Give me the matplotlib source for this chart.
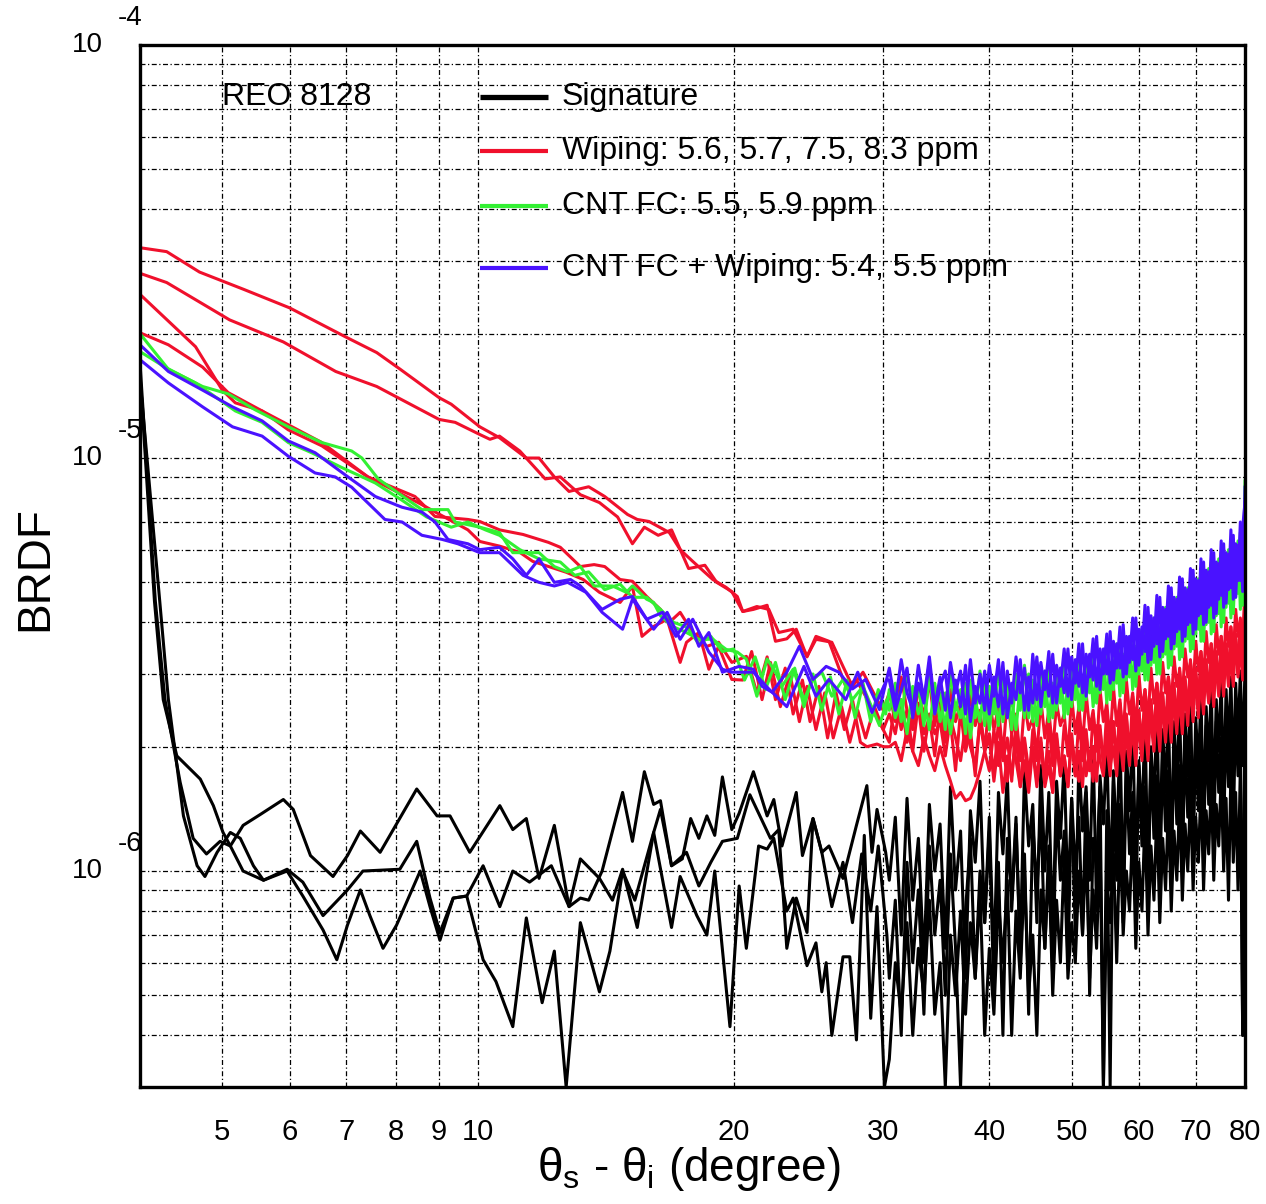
import numpy as np
import matplotlib.pyplot as plt
from matplotlib import transforms
from matplotlib.ticker import FixedLocator, NullFormatter, LogLocator

plt.rcParams['font.family'] = ['Liberation Sans', 'DejaVu Sans']
plt.rcParams['mathtext.fontset'] = 'custom'
plt.rcParams['mathtext.rm'] = 'Liberation Sans'

# BRDF values are in units of 1e-6, angles in degrees
# heads: (angle, BRDF) pairs read off the smooth part; tails share tail_deg (noisy part)
tail_deg = [30.5, 31.0, 31.5, 32.0, 32.5, 33.0, 33.5, 34.0, 34.5, 35.0,
            35.5, 36.0, 36.5, 37.0, 37.5, 38.0, 38.5, 39.0, 39.5, 40.0,
            40.5, 41.0, 41.5, 42.0, 42.5, 43.0, 43.5, 44.0, 44.5, 45.0,
            45.5, 46.0, 46.5, 47.0, 47.5, 48.0, 48.5, 49.0, 49.5, 50.0,
            50.5, 51.0, 51.5, 52.0, 52.5, 53.0, 53.5, 54.0, 54.5, 55.0,
            55.5, 56.0, 56.5, 57.0, 57.5, 58.0, 58.5, 59.0, 59.5, 60.0,
            60.5, 61.0, 61.5, 62.0, 62.5, 63.0, 63.5, 64.0, 64.5, 65.0,
            65.5, 66.0, 66.5, 67.0, 67.5, 68.0, 68.5, 69.0, 69.5, 70.0,
            70.5, 71.0, 71.5, 72.0, 72.5, 73.0, 73.5, 74.0, 74.5, 75.0,
            75.5, 76.0, 76.5, 77.0, 77.5, 78.0, 78.5, 79.0, 79.5, 80.0]

# Signature (three black curves)
sig_a_head = [(4.0, 17.0), (4.17, 4.5), (4.28, 2.6), (4.46, 1.64), (4.62, 1.20), (4.79, 1.10),
              (4.97, 1.18), (5.11, 1.15), (5.29, 1.29), (5.54, 1.37), (5.90, 1.49), (6.06, 1.41),
              (6.35, 1.09), (6.75, 0.97), (7.02, 1.09), (7.27, 1.25), (7.67, 1.11), (8.47, 1.58),
              (8.95, 1.36), (9.27, 1.36), (9.78, 1.11), (10.61, 1.44), (10.99, 1.26), (11.4, 1.34),
              (11.8, 0.96), (12.3, 1.29), (12.8, 0.82), (13.2, 0.86), (13.5, 0.85), (14.0, 1.0),
              (14.8, 1.55), (15.2, 1.18), (15.7, 1.74), (16.1, 1.45), (16.4, 1.48), (16.9, 1.03),
              (17.4, 1.07), (17.8, 1.34), (18.2, 1.20), (18.6, 1.36), (19.0, 1.22), (19.4, 1.69),
              (19.9, 1.26), (20.3, 1.38), (21.1, 1.74), (21.9, 1.36), (22.3, 1.49), (22.8, 1.15),
              (23.7, 1.55), (24.1, 1.09), (24.8, 1.34), (25.4, 1.11), (25.9, 1.15), (26.9, 0.96),
              (27.9, 1.29), (28.7, 1.61), (29.1, 1.11), (29.5, 1.41), (30.2, 1.11)]
sig_a_tail = [0.95, 1.35, 0.70, 1.50, 0.85, 1.20, 0.60, 1.45, 1.00, 1.30,
              0.65, 1.60, 0.90, 1.25, 0.55, 1.40, 1.05, 1.65, 0.75, 1.35,
              0.60, 1.55, 1.10, 1.70, 0.80, 1.30, 0.65, 1.75, 1.15, 1.45,
              0.75, 1.80, 1.00, 1.55, 0.70, 1.65, 1.20, 1.85, 0.85, 1.50,
              0.70, 1.90, 1.25, 1.60, 0.95, 2.00, 0.80, 1.70, 1.30, 2.05,
              0.90, 1.75, 1.15, 2.15, 0.85, 1.95, 1.40, 2.25, 1.00, 1.85,
              1.30, 2.35, 0.95, 2.00, 1.45, 2.45, 1.10, 2.20, 1.55, 2.50,
              1.05, 2.30, 1.60, 2.55, 1.20, 2.40, 1.70, 2.65, 1.25, 2.35,
              1.75, 2.70, 1.30, 2.50, 1.85, 2.80, 1.40, 2.60, 1.95, 2.90,
              1.50, 2.75, 2.00, 2.95, 1.60, 2.85, 2.10, 3.05, 1.80, 3.10]

sig_b_head = [(4.0, 15.5), (4.22, 4.5), (4.32, 2.6), (4.50, 1.36), (4.67, 1.03), (4.77, 0.97),
              (4.93, 1.11), (5.11, 1.24), (5.25, 1.20), (5.44, 1.03), (5.59, 0.95), (5.96, 1.01),
              (6.22, 0.94), (6.57, 0.78), (7.02, 0.90), (7.32, 1.0), (8.09, 1.01), (8.47, 1.18),
              (8.78, 0.86), (9.02, 0.71), (9.35, 0.86), (9.70, 0.87), (10.14, 1.03), (10.61, 0.82),
              (10.99, 1.0), (11.5, 0.94), (12.2, 1.03), (12.8, 0.82), (13.2, 1.07), (13.9, 0.96),
              (14.4, 0.85), (14.8, 1.01), (15.4, 0.73), (16.1, 1.24), (16.4, 1.41), (16.9, 1.03),
              (17.6, 1.11), (18.2, 0.92), (18.8, 1.05), (19.4, 1.18), (20.2, 1.20), (20.9, 1.53),
              (22.1, 1.20), (22.6, 1.26), (23.1, 0.65), (23.7, 0.86), (24.4, 0.71), (24.8, 1.34),
              (25.4, 1.11), (26.1, 0.82), (26.9, 1.05), (27.6, 0.75), (28.3, 1.10), (29.0, 0.80),
              (29.6, 1.15), (30.3, 0.70)]
sig_b_tail = [0.55, 0.85, 0.40, 1.05, 0.60, 0.90, 0.45, 1.15, 0.70, 0.95,
              0.50, 1.10, 0.65, 0.30, 0.80, 1.20, 0.55, 1.00, 0.75, 1.25,
              0.50, 1.05, 0.40, 1.20, 0.85, 1.35, 0.60, 1.10, 0.45, 1.30,
              0.90, 1.40, 0.65, 1.15, 0.55, 1.45, 0.95, 1.25, 0.60, 1.50,
              1.00, 1.35, 0.70, 1.55, 0.50, 1.20, 1.05, 1.60, 0.30, 1.40,
              0.30, 1.65, 0.95, 1.45, 0.75, 1.75, 1.10, 1.55, 0.80, 1.80,
              1.15, 1.60, 0.85, 1.90, 1.20, 1.70, 0.90, 1.95, 1.25, 1.75,
              0.95, 2.05, 1.30, 1.80, 1.00, 2.10, 1.35, 1.90, 1.05, 2.20,
              1.40, 1.95, 1.10, 2.25, 1.45, 2.05, 1.15, 2.30, 1.55, 2.10,
              1.20, 2.40, 1.60, 2.20, 1.25, 2.50, 1.70, 2.30, 0.40, 2.60]

sig_c_head = [(4.0, 16.0), (4.16, 4.5), (4.26, 2.6), (4.42, 1.90), (4.71, 1.67), (4.88, 1.44),
              (5.01, 1.24), (5.11, 1.15), (5.29, 1.0), (5.59, 0.95), (5.96, 1.0), (6.22, 0.87),
              (6.57, 0.72), (6.82, 0.61), (7.02, 0.74), (7.27, 0.90), (7.46, 0.78), (7.73, 0.65),
              (8.02, 0.74), (8.55, 1.0), (8.78, 0.82), (9.02, 0.68), (9.35, 0.86), (9.70, 0.87),
              (10.14, 0.61), (10.5, 0.54), (10.99, 0.42), (11.4, 0.77), (11.9, 0.48), (12.3, 0.64),
              (12.7, 0.30), (13.2, 0.75), (13.9, 0.51), (14.3, 0.64), (14.8, 1.0), (15.3, 0.85),
              (16.1, 1.24), (16.9, 0.73), (17.3, 0.97), (18.1, 0.78), (18.6, 0.70), (19.0, 1.0),
              (19.8, 0.42), (20.3, 0.92), (20.7, 0.65), (21.4, 1.15), (21.9, 1.13), (22.3, 1.20),
              (23.1, 0.80), (23.5, 0.86), (24.4, 0.59), (25.0, 0.67), (25.4, 0.51), (25.7, 0.60),
              (26.1, 0.40), (26.9, 0.62), (27.4, 0.62), (27.9, 0.39), (28.5, 1.22), (29.0, 0.44),
              (29.5, 0.82), (30.1, 0.30)]
sig_c_tail = [0.35, 0.60, 0.45, 0.75, 0.40, 0.65, 0.50, 0.85, 0.45, 0.60,
              0.30, 0.70, 0.50, 0.80, 0.45, 0.75, 0.55, 0.90, 0.40, 0.65,
              0.45, 0.85, 0.60, 0.95, 0.40, 0.80, 0.55, 1.00, 0.50, 0.70,
              0.40, 0.90, 0.65, 1.05, 0.50, 0.85, 0.60, 1.10, 0.55, 0.75,
              0.60, 1.00, 0.70, 1.15, 0.55, 0.90, 0.65, 1.20, 0.30, 0.95,
              0.75, 1.10, 0.60, 1.25, 0.70, 1.00, 0.80, 1.30, 0.65, 1.05,
              0.80, 1.35, 0.70, 1.15, 0.85, 1.40, 0.75, 1.20, 0.90, 1.45,
              0.80, 1.25, 0.95, 1.50, 0.85, 1.30, 1.00, 1.55, 0.90, 1.35,
              1.05, 1.60, 0.90, 1.40, 1.10, 1.65, 0.95, 1.45, 1.15, 1.70,
              1.00, 1.50, 0.85, 1.75, 1.05, 1.55, 0.90, 1.80, 0.40, 2.20]

# Wiping (four red curves)
wip_a_head = [(4.0, 32.3), (4.3, 31.6), (4.7, 28.2), (5.3, 25.6), (6.0, 23.1), (7.0, 19.6),
              (7.6, 18.0), (8.1, 16.4), (9.0, 14.0), (9.3, 13.5), (10.05, 11.9), (10.6, 11.2),
              (11.4, 10.0), (11.8, 10.0), (12.3, 9.0), (12.8, 8.3), (13.5, 8.52), (14.1, 8.07),
              (15.0, 7.30), (15.4, 7.1), (15.9, 7.02), (16.8, 6.6), (17.3, 6.0), (17.9, 5.62),
              (18.9, 5.08), (19.6, 4.86), (20.2, 4.62), (20.5, 4.25), (21.3, 4.37), (22.0, 4.30),
              (22.6, 3.78), (23.5, 3.85), (24.4, 3.31), (25.0, 3.64), (26.1, 3.58), (26.9, 3.13),
              (27.6, 2.80), (28.4, 3.03), (29.5, 2.6), (30.0, 2.45)]
wip_a_tail = [2.70, 2.30, 2.95, 2.45, 2.20, 2.80, 2.35, 2.90, 2.25, 2.65,
              2.10, 2.75, 2.30, 2.55, 2.00, 2.70, 2.25, 2.45, 1.95, 2.60,
              2.20, 2.50, 1.90, 2.65, 2.15, 2.40, 1.85, 2.55, 2.20, 2.35,
              1.90, 2.60, 2.10, 2.45, 1.95, 2.55, 2.25, 2.40, 1.90, 2.65,
              2.15, 2.50, 2.00, 2.70, 2.20, 2.45, 1.95, 2.75, 2.30, 2.55,
              2.05, 2.80, 2.25, 2.60, 2.10, 2.90, 2.40, 2.70, 2.20, 3.00,
              2.45, 2.75, 2.30, 3.10, 2.55, 2.85, 2.40, 3.20, 2.70, 2.95,
              2.50, 3.30, 2.80, 3.05, 2.60, 3.45, 2.95, 3.20, 2.75, 3.60,
              3.05, 3.40, 2.90, 3.80, 3.20, 3.55, 3.00, 3.95, 3.35, 3.70,
              3.15, 4.10, 3.50, 3.90, 3.30, 4.30, 3.70, 4.05, 3.45, 5.00]

wip_b_head = [(4.0, 28.0), (4.3, 26.6), (5.1, 21.6), (5.9, 19.1), (6.8, 16.2), (7.6, 14.9),
              (9.0, 12.4), (9.4, 12.2), (10.05, 11.4), (10.33, 11.1), (10.6, 11.3), (11.2, 10.4),
              (12.0, 8.9), (12.5, 9.0), (13.2, 8.15), (13.9, 7.8), (14.6, 7.2), (15.2, 6.2),
              (15.7, 6.8), (16.3, 6.5), (16.9, 6.7), (17.7, 5.4), (18.5, 5.5), (19.1, 5.0),
              (19.9, 4.75), (20.5, 4.25), (21.1, 4.3), (21.9, 4.4), (22.4, 3.6), (23.1, 3.65),
              (23.7, 3.85), (24.4, 3.3), (25.0, 3.7), (25.9, 3.6), (27.1, 2.8), (27.9, 2.9),
              (28.6, 2.65), (30.0, 2.2)]
wip_b_tail = [2.05, 2.60, 2.20, 2.45, 1.95, 2.55, 2.15, 2.35, 1.90, 2.50,
              2.05, 2.30, 1.75, 2.45, 1.95, 2.20, 1.70, 2.35, 2.00, 2.15,
              1.70, 2.30, 1.85, 2.10, 1.65, 2.25, 1.90, 2.05, 1.60, 2.20,
              1.85, 2.00, 1.65, 2.30, 1.80, 2.10, 1.70, 2.25, 1.95, 2.05,
              1.70, 2.35, 1.85, 2.15, 1.75, 2.40, 2.00, 2.20, 1.80, 2.45,
              1.95, 2.30, 1.85, 2.55, 2.05, 2.35, 1.90, 2.65, 2.15, 2.45,
              2.00, 2.75, 2.25, 2.55, 2.10, 2.85, 2.35, 2.65, 2.20, 2.95,
              2.45, 2.75, 2.30, 3.10, 2.55, 2.90, 2.40, 3.25, 2.70, 3.00,
              2.55, 3.40, 2.85, 3.15, 2.65, 3.55, 3.00, 3.30, 2.80, 3.70,
              3.10, 3.50, 2.95, 3.90, 3.25, 3.65, 3.05, 4.10, 3.40, 4.50]

wip_c_head = [(4.0, 20.1), (4.32, 18.8), (4.74, 16.6), (5.08, 14.4), (5.57, 13.0), (6.55, 10.9),
              (7.42, 9.0), (8.43, 8.07), (8.9, 7.22), (9.73, 7.1), (10.05, 7.02), (10.6, 6.7),
              (11.3, 6.53), (12.1, 6.25), (12.5, 6.08), (13.2, 5.46), (13.7, 5.52), (14.1, 5.46),
              (14.7, 5.08), (15.2, 5.03), (15.8, 4.62), (16.4, 4.30), (16.8, 4.0), (17.3, 4.23),
              (17.9, 3.78), (18.6, 3.50), (19.2, 3.58), (19.9, 3.20), (20.7, 3.31), (21.3, 2.7),
              (21.9, 3.3), (22.4, 2.6), (23.0, 3.1), (23.5, 2.4), (24.1, 2.9), (24.6, 2.3),
              (25.2, 2.8), (25.8, 2.1), (26.4, 2.7), (27.0, 2.2), (27.6, 2.6), (28.2, 2.05),
              (28.7, 2.0), (29.5, 2.03), (30.0, 2.0)]
wip_c_tail = [2.00, 2.05, 1.85, 2.20, 1.95, 1.80, 2.10, 1.90, 1.75, 2.00,
              1.80, 1.65, 1.50, 1.55, 1.48, 1.50, 1.60, 1.75, 1.95, 2.10,
              1.65, 2.05, 1.55, 1.90, 1.70, 2.15, 1.60, 1.85, 1.55, 2.00,
              1.65, 2.10, 1.60, 1.80, 1.55, 2.05, 1.70, 1.90, 1.60, 2.15,
              1.70, 1.95, 1.60, 2.20, 1.75, 2.00, 1.65, 2.25, 1.80, 2.05,
              1.70, 2.30, 1.85, 2.10, 1.75, 2.40, 1.90, 2.20, 1.80, 2.45,
              1.95, 2.30, 1.85, 2.60, 2.05, 2.40, 1.95, 2.70, 2.15, 2.50,
              2.05, 2.85, 2.25, 2.60, 2.15, 2.95, 2.40, 2.75, 2.30, 3.10,
              2.50, 2.85, 2.40, 3.25, 2.60, 3.00, 2.50, 3.40, 2.75, 3.15,
              2.65, 3.55, 2.90, 3.30, 2.80, 3.75, 3.00, 3.50, 2.90, 4.20]

wip_d_head = [(4.0, 24.9), (4.65, 18.6), (5.0, 14.6), (5.18, 13.6), (5.57, 13.0), (5.98, 11.7),
              (6.55, 10.7), (7.42, 9.0), (8.50, 7.8), (9.73, 6.7), (10.05, 6.28), (10.6, 6.12),
              (11.2, 5.91), (11.6, 5.62), (12.7, 5.29), (13.3, 5.08), (13.9, 4.73), (14.7, 4.47),
              (15.2, 4.89), (15.6, 3.70), (16.1, 3.91), (16.7, 4.07), (17.3, 3.20), (17.6, 3.58),
              (18.2, 3.78), (18.7, 3.08), (19.2, 3.50), (19.9, 2.91), (20.5, 2.9), (21.0, 3.4),
              (21.6, 2.6), (22.1, 3.2), (22.7, 2.5), (23.3, 3.0), (23.9, 2.3), (24.4, 2.8),
              (25.0, 2.2), (25.6, 2.7), (26.2, 2.1), (26.8, 2.5), (27.4, 2.05), (28.0, 2.45),
              (28.6, 2.1), (29.3, 2.5), (30.0, 2.2)]
wip_d_tail = [2.40, 2.15, 2.60, 2.05, 2.35, 2.50, 1.95, 2.40, 2.15, 2.30,
              1.90, 2.35, 2.10, 1.85, 2.25, 2.00, 1.80, 2.30, 1.95, 1.75,
              2.20, 1.80, 2.05, 1.65, 2.15, 1.85, 1.60, 2.10, 1.75, 1.95,
              1.60, 2.05, 1.70, 1.95, 1.55, 2.15, 1.75, 1.90, 1.60, 2.10,
              1.80, 1.65, 2.20, 1.70, 1.95, 1.65, 2.25, 1.85, 1.70, 2.15,
              1.80, 2.00, 1.70, 2.35, 1.90, 2.10, 1.80, 2.45, 2.00, 2.20,
              1.85, 2.55, 2.10, 2.30, 1.95, 2.65, 2.20, 2.45, 2.05, 2.80,
              2.30, 2.55, 2.15, 2.95, 2.40, 2.70, 2.25, 3.05, 2.55, 2.85,
              2.35, 3.20, 2.70, 2.95, 2.55, 3.35, 2.80, 3.10, 2.65, 3.50,
              2.95, 3.30, 2.80, 3.70, 3.10, 3.45, 2.95, 3.90, 3.25, 4.60]

# CNT FC (two green curves)
cnt_a_head = [(4.0, 20.0), (4.32, 16.4), (4.74, 14.9), (5.08, 14.3), (5.46, 13.1), (5.98, 11.9),
              (6.55, 10.9), (7.1, 10.4), (7.3, 10.0), (7.63, 8.9), (8.14, 8.1), (8.59, 7.5),
              (9.22, 7.5), (9.4, 7.0), (10.05, 6.8), (10.6, 6.6), (10.99, 5.9), (11.4, 5.9),
              (11.8, 5.9), (12.3, 5.46), (12.75, 5.3), (13.2, 5.46), (13.7, 4.9), (14.4, 4.9),
              (14.95, 4.73), (15.2, 4.9), (15.8, 4.55), (16.1, 4.47), (16.4, 4.15), (16.95, 3.91),
              (17.6, 3.78), (18.2, 3.64), (18.9, 3.64), (19.6, 3.44), (20.2, 3.39), (20.7, 3.26),
              (21.3, 2.65), (21.9, 3.26), (22.4, 3.03), (22.8, 2.8), (23.5, 3.08), (24.2, 2.6),
              (24.8, 2.91), (25.4, 3.03), (26.1, 2.65), (26.9, 2.91), (27.6, 2.6), (28.4, 2.8),
              (29.7, 2.25), (30.3, 2.6)]
cnt_a_tail = [2.45, 2.85, 2.30, 3.05, 2.50, 2.80, 2.25, 2.95, 2.40, 2.70,
              2.20, 3.00, 2.45, 2.75, 2.15, 2.90, 2.35, 3.05, 2.25, 2.80,
              2.40, 3.10, 2.30, 2.85, 2.20, 3.00, 2.45, 3.15, 2.35, 2.90,
              2.25, 3.05, 2.50, 3.20, 2.35, 2.95, 2.55, 3.25, 2.40, 3.10,
              2.60, 3.35, 2.45, 3.10, 2.70, 3.45, 2.55, 3.25, 2.75, 3.55,
              2.60, 3.40, 2.85, 3.70, 2.70, 3.50, 2.95, 3.85, 2.80, 3.60,
              3.05, 4.05, 2.90, 3.80, 3.20, 4.30, 3.00, 4.00, 3.35, 4.50,
              3.15, 4.20, 3.50, 4.75, 3.30, 4.45, 3.65, 5.00, 3.45, 4.70,
              3.85, 5.30, 3.60, 4.95, 4.00, 5.60, 3.80, 5.20, 4.20, 5.90,
              4.00, 5.50, 4.45, 6.30, 4.20, 5.80, 4.70, 6.60, 4.40, 8.80]

cnt_b_head = [(4.0, 18.1), (4.28, 16.6), (4.65, 15.2), (5.18, 13.0), (5.57, 12.2), (5.98, 10.9),
              (6.37, 10.3), (6.9, 9.5), (7.57, 8.7), (8.14, 7.9), (8.7, 7.2), (9.3, 6.8),
              (9.73, 7.0), (10.2, 6.7), (10.6, 6.5), (11.2, 6.0), (11.8, 5.7), (12.5, 5.6),
              (13.0, 5.2), (13.5, 5.3), (14.1, 4.8), (14.7, 4.95), (15.2, 4.6), (15.8, 4.6),
              (16.4, 4.3), (17.0, 4.0), (17.6, 3.9), (18.2, 3.55), (18.8, 3.7), (19.4, 3.4),
              (20.0, 3.45), (20.6, 2.9), (21.2, 3.3), (21.8, 2.75), (22.4, 3.2), (23.0, 2.6),
              (23.6, 3.1), (24.2, 2.5), (24.8, 3.0), (25.4, 2.45), (26.0, 2.95), (26.6, 2.4),
              (27.2, 2.9), (27.8, 2.35), (28.4, 2.85), (29.0, 2.3), (29.6, 2.75), (30.2, 2.4)]
cnt_b_tail = [2.75, 2.35, 2.60, 2.15, 2.80, 2.40, 2.65, 2.20, 2.85, 2.30,
              2.70, 2.15, 2.55, 2.35, 2.85, 2.10, 2.60, 2.30, 2.90, 2.20,
              2.70, 2.25, 2.95, 2.40, 2.60, 2.20, 2.85, 2.35, 3.00, 2.30,
              2.75, 2.40, 3.05, 2.30, 2.85, 2.45, 3.10, 2.35, 2.90, 2.50,
              3.15, 2.45, 2.95, 2.60, 3.30, 2.50, 3.05, 2.70, 3.40, 2.55,
              3.20, 2.75, 3.55, 2.65, 3.35, 2.90, 3.70, 2.75, 3.50, 3.00,
              3.85, 2.90, 3.65, 3.15, 4.10, 3.00, 3.90, 3.30, 4.35, 3.10,
              4.10, 3.45, 4.60, 3.25, 4.35, 3.60, 4.85, 3.40, 4.55, 3.75,
              5.10, 3.60, 4.80, 3.95, 5.40, 3.75, 5.05, 4.15, 5.70, 3.90,
              5.35, 4.35, 6.00, 4.10, 5.65, 4.60, 6.30, 4.30, 6.05, 7.50]

# CNT FC + Wiping (two blue curves)
cntw_a_head = [(4.0, 18.8), (4.32, 16.2), (4.74, 14.6), (5.14, 13.3), (5.57, 12.3), (5.98, 11.0),
               (6.43, 10.3), (7.03, 9.0), (7.57, 8.07), (8.14, 7.6), (8.59, 7.4), (8.9, 7.0),
               (9.22, 6.35), (9.73, 6.2), (10.05, 6.0), (10.6, 6.08), (10.99, 5.7), (11.4, 5.2),
               (11.8, 5.7), (12.3, 5.0), (12.85, 5.08), (13.2, 4.9), (14.0, 4.3), (14.7, 4.55),
               (15.2, 4.62), (15.8, 4.07), (16.5, 4.23), (17.1, 3.7), (17.7, 4.07), (18.2, 3.5),
               (18.7, 3.78), (19.4, 3.03), (20.3, 3.13), (21.1, 3.08), (21.6, 2.80), (22.2, 2.71),
               (23.1, 3.03), (23.9, 3.5), (24.8, 2.91), (25.7, 3.13), (26.6, 3.03), (27.6, 2.76),
               (28.6, 2.91), (29.7, 2.46)]
cntw_a_tail = [3.10, 2.55, 3.25, 2.70, 2.45, 3.15, 2.60, 3.30, 2.50, 2.95,
               2.45, 3.20, 2.70, 3.05, 2.40, 3.25, 2.55, 3.00, 2.45, 3.15,
               2.65, 3.25, 2.40, 3.05, 2.55, 3.30, 2.70, 3.10, 2.45, 3.35,
               2.60, 3.20, 2.75, 3.40, 2.55, 3.15, 2.80, 3.45, 2.65, 3.30,
               2.85, 3.55, 2.70, 3.35, 2.95, 3.65, 2.80, 3.45, 3.00, 3.75,
               2.85, 3.60, 3.10, 3.90, 2.95, 3.70, 3.20, 4.10, 3.05, 3.85,
               3.35, 4.40, 3.20, 4.15, 3.50, 4.65, 3.30, 4.35, 3.65, 4.90,
               3.45, 4.60, 3.80, 5.15, 3.60, 4.85, 3.95, 5.40, 3.75, 5.10,
               4.15, 5.70, 3.95, 5.35, 4.35, 6.00, 4.10, 5.60, 4.55, 6.30,
               4.35, 5.90, 4.80, 6.70, 4.55, 6.20, 5.05, 7.00, 4.75, 8.50]

cntw_b_head = [(4.0, 17.3), (4.32, 15.2), (4.74, 13.3), (5.14, 11.9), (5.57, 11.3), (5.98, 10.1),
               (6.43, 9.2), (6.79, 9.0), (7.1, 8.5), (7.77, 7.1), (8.14, 7.0), (8.59, 6.5),
               (9.08, 6.35), (9.47, 6.2), (10.05, 5.9), (10.6, 5.9), (11.3, 5.2), (11.8, 5.0),
               (12.3, 4.9), (12.75, 5.0), (13.4, 4.73), (14.0, 4.23), (14.8, 3.85), (15.2, 4.55),
               (16.1, 3.85), (16.7, 4.23), (17.3, 3.64), (17.9, 4.07), (18.7, 3.39), (19.4, 3.08),
               (19.9, 3.03), (21.1, 3.03), (22.0, 2.76), (23.1, 2.5), (24.2, 3.13), (25.0, 2.65),
               (25.9, 2.91), (27.1, 2.6), (28.0, 3.03), (29.1, 2.42), (30.3, 2.91)]
cntw_b_tail = [2.90, 2.45, 2.75, 3.10, 2.35, 2.85, 2.55, 3.20, 2.40, 2.80,
               3.05, 2.35, 2.90, 2.50, 3.15, 2.30, 2.80, 2.55, 3.05, 2.40,
               2.95, 2.50, 3.20, 2.35, 2.85, 2.60, 3.25, 2.45, 2.95, 2.55,
               3.30, 2.50, 3.05, 2.65, 3.35, 2.55, 3.10, 2.70, 3.45, 2.60,
               3.25, 2.80, 3.55, 2.65, 3.35, 2.90, 3.70, 2.75, 3.45, 3.00,
               3.80, 2.90, 3.55, 3.10, 3.95, 3.00, 3.70, 3.25, 4.10, 3.15,
               3.90, 3.40, 4.35, 3.25, 4.10, 3.55, 4.60, 3.40, 4.30, 3.70,
               4.85, 3.55, 4.55, 3.85, 5.10, 3.70, 4.80, 4.00, 5.35, 3.85,
               5.05, 4.20, 5.60, 4.00, 5.30, 4.40, 5.90, 4.20, 5.55, 4.65,
               6.20, 4.45, 5.85, 4.85, 6.50, 4.60, 6.15, 5.05, 6.80, 7.80]

legend_labels = ["Signature", "Wiping: 5.6, 5.7, 7.5, 8.3 ppm",
                 "CNT FC: 5.5, 5.9 ppm", "CNT FC + Wiping: 5.4, 5.5 ppm"]
x_ticks = [5, 6, 7, 8, 9, 10, 20, 30, 40, 50, 60, 70, 80]
y_decades = [1e-4, 1e-5, 1e-6]

RED = '#f0102c'
GREEN = '#33f033'
BLUE = '#4a12ff'
colors = ['black', RED, GREEN, BLUE]

fig = plt.figure(figsize=(12.66, 12.04), dpi=100)
ax = fig.add_axes([140 / 1266, 1 - 1087 / 1204, 1105 / 1266, 1042 / 1204])
ax.set_xscale('log')
ax.set_yscale('log')


def draw(head, tail, color):
    xs = [p[0] for p in head] + tail_deg
    ys = [p[1] for p in head] + tail
    ax.plot(xs, np.array(ys) * 1e-6, color=color, lw=2.2, solid_joinstyle='round')


for h, t in [(sig_a_head, sig_a_tail), (sig_b_head, sig_b_tail), (sig_c_head, sig_c_tail)]:
    draw(h, t, 'black')
for h, t in [(wip_a_head, wip_a_tail), (wip_b_head, wip_b_tail),
             (wip_c_head, wip_c_tail), (wip_d_head, wip_d_tail)]:
    draw(h, t, RED)
for h, t in [(cnt_a_head, cnt_a_tail), (cnt_b_head, cnt_b_tail)]:
    draw(h, t, GREEN)
for h, t in [(cntw_a_head, cntw_a_tail), (cntw_b_head, cntw_b_tail)]:
    draw(h, t, BLUE)

ax.set_xlim(4, 80)
ax.set_ylim(3e-7, 1e-4)

# axes, grid and ticks
ax.xaxis.set_major_locator(FixedLocator(x_ticks))
ax.xaxis.set_minor_locator(FixedLocator([]))
ax.set_xticklabels([str(v) for v in x_ticks])
ax.xaxis.set_minor_formatter(NullFormatter())
ax.yaxis.set_major_locator(LogLocator(base=10))
ax.yaxis.set_minor_locator(LogLocator(base=10, subs=np.arange(2, 10)))
ax.yaxis.set_major_formatter(NullFormatter())
ax.yaxis.set_minor_formatter(NullFormatter())
ax.tick_params(which='both', length=0)
ax.tick_params(axis='x', labelsize=21, pad=22)
ax.grid(True, which='major', axis='x', color='black', lw=0.9, ls=(0, (4, 2, 1, 2)))
ax.grid(True, which='both', axis='y', color='black', lw=0.9, ls=(0, (4, 2, 1, 2)))
for s in ax.spines.values():
    s.set_linewidth(2.4)
    s.set_zorder(5)

trans = transforms.blended_transform_factory(ax.transAxes, ax.transData)
exp_trans = transforms.offset_copy(trans, fig=fig, x=0, y=27, units='dots')
for d in y_decades:
    ax.text(-0.0335, d, "10", transform=trans, ha='right', va='center', fontsize=20)
    ax.text(-0.020, d, "%d" % round(np.log10(d)), transform=exp_trans,
            ha='left', va='center', fontsize=20)

ax.set_xlabel(r"$\mathregular{\theta_s}$ - $\mathregular{\theta_i}$ (degree)", fontsize=33)
ax.xaxis.set_label_coords(0.497, -0.056)
ax.set_ylabel("BRDF", fontsize=33)
ax.yaxis.set_label_coords(-0.075, 0.498)

ax.text(0.0742, 0.950, "REO 8128", transform=ax.transAxes, ha='left', va='center', fontsize=23)

# legend drawn by hand to keep the row spacing of the original
rows = [0.950, 0.8983, 0.8455, 0.786]
widths = [3.8, 3.0, 3.0, 3.0]
for lab, col, yy, w in zip(legend_labels, colors, rows, widths):
    ax.plot([0.3077, 0.3692], [yy, yy], transform=ax.transAxes, color=col, lw=w,
            solid_capstyle='butt')
    ax.text(0.3819, yy, lab, transform=ax.transAxes, ha='left', va='center', fontsize=23)

fig.savefig('out.png', dpi=100)
